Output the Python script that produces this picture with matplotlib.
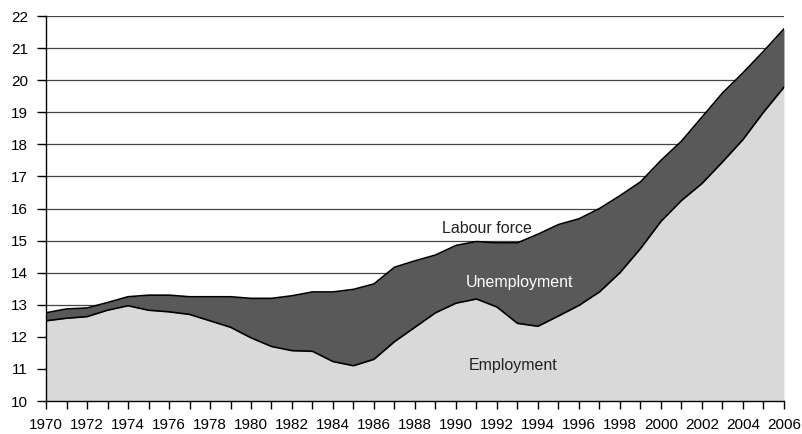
import matplotlib.pyplot as plt
import numpy as np

plt.rcParams['font.family'] = ['Liberation Sans', 'DejaVu Sans']

# Millions of persons, 1970-2006
years = list(range(1970, 2007))
labour_force = [12.75, 12.87, 12.90, 13.07, 13.25, 13.30, 13.30, 13.25, 13.25, 13.25,
                13.20, 13.20, 13.28, 13.40, 13.40, 13.48, 13.65, 14.17, 14.37, 14.55,
                14.85, 14.97, 14.93, 14.93, 15.20, 15.50, 15.68, 16.00, 16.40, 16.83,
                17.50, 18.10, 18.85, 19.60, 20.23, 20.90, 21.60]
employment = [12.50, 12.58, 12.63, 12.83, 12.97, 12.83, 12.78, 12.70, 12.50, 12.30,
              11.97, 11.70, 11.57, 11.55, 11.23, 11.10, 11.30, 11.85, 12.30, 12.75,
              13.05, 13.18, 12.93, 12.42, 12.33, 12.65, 12.98, 13.40, 14.00, 14.75,
              15.60, 16.25, 16.78, 17.45, 18.15, 19.00, 19.78]

fig = plt.figure(figsize=(8.03, 4.34), dpi=100)
ax = fig.add_axes([0.0573, 0.076, 0.919, 0.887])

ax.set_ylim(10, 22)
ax.set_xlim(1970, 2006)

for v in range(11, 23):
    ax.axhline(v, color='#444444', lw=0.9, zorder=1)

ax.fill_between(years, 10, employment, color='#d9d9d9', zorder=2, lw=0)
ax.fill_between(years, employment, labour_force, color='#595959', zorder=2, lw=0)
ax.plot(years, employment, color='black', lw=1.2, zorder=3)
ax.plot(years, labour_force, color='black', lw=1.2, zorder=3)

ax.text(1991.5, 15.37, 'Labour force', ha='center', va='center', fontsize=11.5, color='#222222', zorder=4)
ax.text(1993.1, 13.7, 'Unemployment', ha='center', va='center', fontsize=11.5, color='white', zorder=4)
ax.text(1992.8, 11.1, 'Employment', ha='center', va='center', fontsize=11.5, color='#222222', zorder=4)

ax.set_xticks(years)
ax.set_xticklabels([str(y) if y % 2 == 0 else '' for y in years])
ax.set_yticks(range(10, 23))
ax.tick_params(axis='both', direction='out', length=6.5, width=1, labelsize=11, colors='black')
ax.tick_params(axis='x', length=6, pad=6)
ax.tick_params(axis='y', pad=6.5)

for s in ['top', 'right']:
    ax.spines[s].set_visible(False)
ax.spines['left'].set_linewidth(1)
ax.spines['bottom'].set_linewidth(1)

fig.savefig('out.png', dpi=100)
